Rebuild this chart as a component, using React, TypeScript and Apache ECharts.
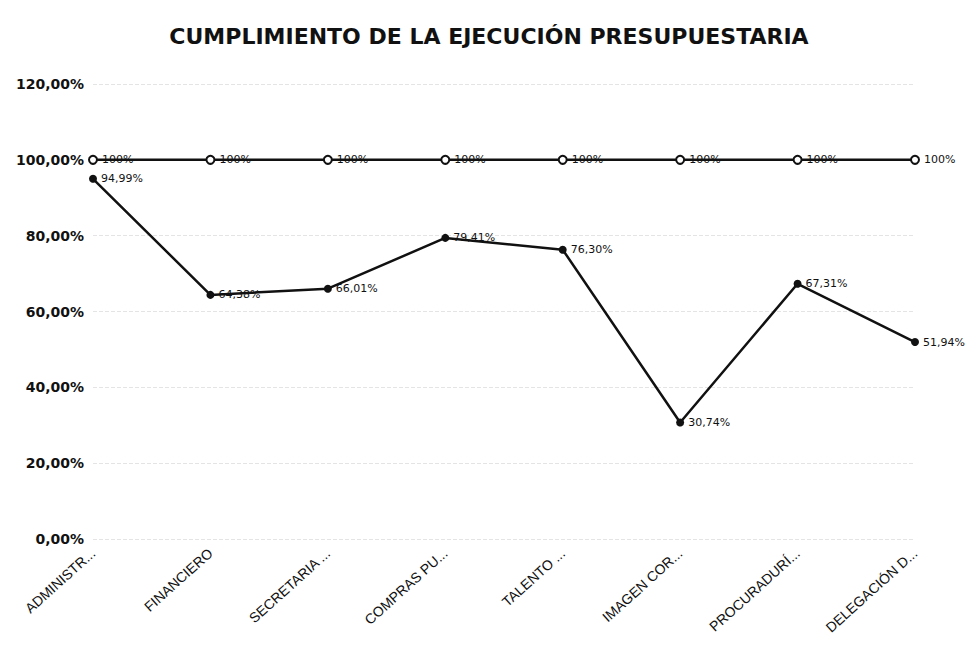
import React, { useEffect, useRef } from "react";
import * as echarts from "echarts";

const categories = [
  "ADMINISTR...",
  "FINANCIERO",
  "SECRETARIA ...",
  "COMPRAS PU...",
  "TALENTO ...",
  "IMAGEN COR...",
  "PROCURADURÍ...",
  "DELEGACIÓN D...",
];
const metaValues = [100, 100, 100, 100, 100, 100, 100, 100];
const ejecucionValues = [94.99, 64.38, 66.01, 79.41, 76.3, 30.74, 67.31, 51.94];
const yTicks = { min: 0, max: 120, interval: 20 };
const titleText = "CUMPLIMIENTO DE LA EJECUCIÓN PRESUPUESTARIA";

const fmt2 = (v: number) => v.toFixed(2).replace(".", ",") + "%";

export default function App() {
  const ref = useRef<HTMLDivElement>(null);
  useEffect(() => {
    if (!ref.current) return;
    const chart = echarts.init(ref.current, null, { renderer: "svg" });
    chart.setOption({
      animation: false,
      backgroundColor: "#ffffff",
      title: {
        text: titleText,
        left: "center",
        top: 12,
        textStyle: {
          fontFamily: "DejaVu Sans",
          fontWeight: "bold",
          fontSize: 22,
          color: "#111",
        },
      },
      grid: { left: 85, right: 55, top: 76, bottom: 108 },
      xAxis: {
        type: "category",
        data: categories,
        boundaryGap: false,
        axisLine: { show: false },
        axisTick: { show: false },
        axisLabel: {
          rotate: 42,
          interval: 0,
          margin: 12,
          fontFamily: "Liberation Sans",
          fontSize: 14,
          color: "#111",
        },
      },
      yAxis: {
        type: "value",
        min: yTicks.min,
        max: yTicks.max,
        interval: yTicks.interval,
        axisLine: { show: false },
        axisTick: { show: false },
        splitLine: { show: true, lineStyle: { color: "#e4e4e4", type: "dashed", width: 1 } },
        axisLabel: {
          formatter: (v: number) => fmt2(v),
          fontFamily: "DejaVu Sans",
          fontWeight: "bold",
          fontSize: 14,
          color: "#111",
          margin: 9,
        },
      },
      series: [
        {
          type: "line",
          data: metaValues,
          symbol: "emptyCircle",
          symbolSize: 8,
          lineStyle: { color: "#111", width: 2.5 },
          itemStyle: { color: "#111", borderColor: "#111", borderWidth: 2 },
          label: {
            show: true,
            position: "right",
            distance: 4,
            formatter: (p: any) => Math.round(p.value) + "%",
            fontFamily: "DejaVu Sans",
            fontSize: 11,
            color: "#111",
          },
        },
        {
          type: "line",
          data: ejecucionValues,
          symbol: "circle",
          symbolSize: 8,
          lineStyle: { color: "#111", width: 2.5 },
          itemStyle: { color: "#111" },
          label: {
            show: true,
            position: "right",
            distance: 4,
            formatter: (p: any) => fmt2(p.value),
            fontFamily: "DejaVu Sans",
            fontSize: 11,
            color: "#111",
          },
        },
      ],
    });
    return () => chart.dispose();
  }, []);
  return <div ref={ref} style={{ width: 962, height: 639 }} />;
}
